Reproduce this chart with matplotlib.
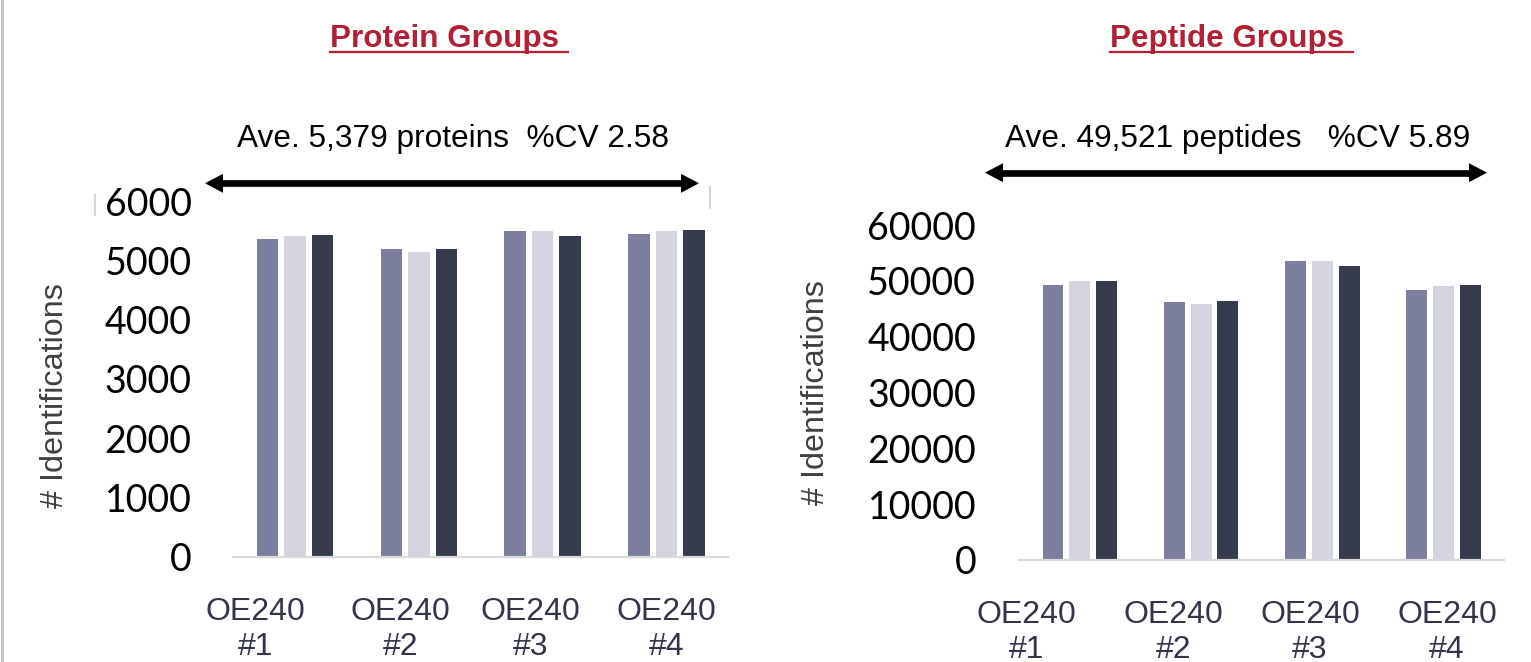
import matplotlib
matplotlib.use("Agg")
import matplotlib.pyplot as plt
from matplotlib import font_manager
from matplotlib.lines import Line2D
from matplotlib.patches import Polygon
import numpy as np

# ---- data -------------------------------------------------------------
runs = ["OE240\n#1", "OE240\n#2", "OE240\n#3", "OE240\n#4"]

protein_rep1 = [5363, 5195, 5486, 5448]
protein_rep2 = [5414, 5138, 5486, 5492]
protein_rep3 = [5419, 5195, 5402, 5509]

peptide_rep1 = [49300, 46180, 53500, 48410]
peptide_rep2 = [50020, 45940, 53560, 49000]
peptide_rep3 = [50020, 46420, 52650, 49240]

protein_ticks = [0, 1000, 2000, 3000, 4000, 5000, 6000]
peptide_ticks = [0, 10000, 20000, 30000, 40000, 50000, 60000]

protein_title = "Protein Groups "
peptide_title = "Peptide Groups "
protein_note = "Ave. 5,379 proteins  %CV 2.58"
peptide_note = "Ave. 49,521 peptides   %CV 5.89"
y_title = "# Identifications"

# ---- styling ----------------------------------------------------------
bar_colors = ["#7b7f9d", "#d4d4e0", "#363a4d"]
title_color = "#b22036"
label_color = "#33354a"
axis_color = "#d9d9d9"

available = {f.name for f in font_manager.fontManager.ttflist}
text_font = "Liberation Sans" if "Liberation Sans" in available else "DejaVu Sans"
num_font = "Lato" if "Lato" in available else text_font

W, H = 1531, 662
fig = plt.figure(figsize=(W / 100, H / 100), dpi=100)
fig.patch.set_facecolor("white")


def fx(px):
    return px / W


def fy(py):
    return 1 - py / H


def axes_box(x0, y_top, x1, y_bottom):
    return [fx(x0), fy(y_bottom), fx(x1) - fx(x0), fy(y_top) - fy(y_bottom)]


def draw_panel(ax, series, ticks, label_shift, ypad, xpad):
    x = np.arange(len(runs))
    offsets = [-0.222, 0.0, 0.222]
    for vals, off, col in zip(series, offsets, bar_colors):
        ax.bar(x + off, vals, width=0.173, color=col, edgecolor="none", zorder=2)
    ax.set_xlim(-0.5, len(runs) - 0.5)
    ax.set_ylim(0, ticks[-1])
    ax.set_yticks(ticks)
    ax.set_yticklabels([str(t) for t in ticks], fontsize=27,
                       fontfamily=num_font, color="black")
    ax.tick_params(axis="y", length=0, pad=ypad)
    ax.set_xticks(x + np.array(label_shift))
    ax.set_xticklabels(runs, fontsize=23, fontfamily=text_font,
                       color=label_color, linespacing=1.22)
    ax.tick_params(axis="x", length=0, pad=xpad)
    for s in ["left", "right", "top"]:
        ax.spines[s].set_visible(False)
    ax.spines["bottom"].set_color(axis_color)
    ax.spines["bottom"].set_linewidth(1.6)
    ax.spines["bottom"].set_zorder(3)
    ax.patch.set_alpha(0)


ax1 = fig.add_axes(axes_box(233.3, 201.0, 728.3, 556.7))
draw_panel(ax1, [protein_rep1, protein_rep2, protein_rep3], protein_ticks,
           [-0.32, -0.15, -0.10, 0.0], ypad=30, xpad=29)

ax2 = fig.add_axes(axes_box(1019.3, 225.0, 1504.0, 560.0))
draw_panel(ax2, [peptide_rep1, peptide_rep2, peptide_rep3], peptide_ticks,
           [-0.44, -0.23, -0.10, 0.03], ypad=31, xpad=29)

# ---- y-axis titles ----------------------------------------------------
for cx, cy in [(55, 396), (816, 393)]:
    fig.text(fx(cx), fy(cy), y_title, rotation=90, ha="center", va="center",
             fontsize=23.3, fontfamily=text_font, color="#404040")

# ---- panel titles (underlined) ---------------------------------------
titles = []
for x0, txt in [(330, protein_title), (1110, peptide_title)]:
    t = fig.text(fx(x0), fy(47.5), txt, ha="left", va="baseline",
                 fontsize=22.6, fontweight="bold", fontfamily=text_font,
                 color=title_color)
    titles.append(t)

# ---- summary notes ----------------------------------------------------
fig.text(fx(237), fy(146.5), protein_note, ha="left", va="baseline",
         fontsize=22.8, fontfamily=text_font, color="black")
fig.text(fx(1005), fy(146.5), peptide_note, ha="left", va="baseline",
         fontsize=22.8, fontfamily=text_font, color="black")


def double_arrow(x0, x1, y, head_len=18, head_half=9.5, lw=4.8):
    fig.add_artist(Line2D([fx(x0 + head_len - 2), fx(x1 - head_len + 2)],
                          [fy(y), fy(y)], color="black", lw=lw,
                          solid_capstyle="butt"))
    for tip, base in [(x0, x0 + head_len), (x1, x1 - head_len)]:
        fig.add_artist(Polygon([[fx(tip), fy(y)],
                                [fx(base), fy(y - head_half)],
                                [fx(base), fy(y + head_half)]],
                               closed=True, facecolor="black",
                               edgecolor="none"))


double_arrow(205, 699, 183.3)
double_arrow(985, 1487, 172.7)

# ---- thin frame remnants ---------------------------------------------
fig.add_artist(Line2D([fx(1.5), fx(1.5)], [0, 1], color="#c6c6c6", lw=2.2))
fig.add_artist(Line2D([fx(95), fx(95)], [fy(195), fy(215)], color="#d6d6d6", lw=1.5))
fig.add_artist(Line2D([fx(710), fx(710)], [fy(187), fy(208)], color="#d6d6d6", lw=1.5))

# underline each title across its full width
fig.canvas.draw()
renderer = fig.canvas.get_renderer()
for t in titles:
    bb = t.get_window_extent(renderer)
    yline = fy(52)
    fig.add_artist(Line2D([bb.x0 / fig.bbox.width, bb.x1 / fig.bbox.width],
                          [yline, yline], color=title_color, lw=1.6))

fig.savefig("out.png", dpi=100, facecolor="white")
